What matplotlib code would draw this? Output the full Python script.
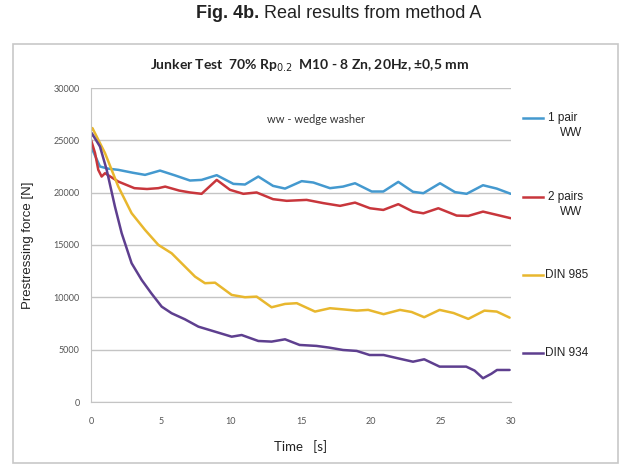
import matplotlib.pyplot as plt
from matplotlib.patches import Rectangle

# values (time in s, force in N)
t_pair1 = [0, 0.64, 1.2, 1.95, 3.0, 3.86, 4.93, 6.0, 7.07, 7.9, 8.98, 10.17, 11.0, 11.95, 13.0,
           13.86, 15.05, 15.88, 17.07, 18.0, 18.86, 20.05, 20.88, 21.95, 23.0, 23.74, 24.93, 26.0,
           26.83, 28.0, 28.98, 29.98]
f_pair1 = [24400, 22500, 22300, 22180, 21900, 21700, 22110, 21650, 21160, 21220, 21670, 20840,
           20780, 21540, 20650, 20390, 21100, 20970, 20430, 20580, 20900, 20110, 20110, 21030,
           20080, 19950, 20900, 20050, 19890, 20710, 20390, 19890]

t_pairs2 = [0, 0.29, 0.52, 0.76, 1.0, 1.95, 3.1, 4.0, 4.81, 5.3, 6.3, 7.07, 7.9, 8.98, 9.93, 10.88,
            11.83, 13.0, 13.98, 15.4, 16.6, 17.79, 18.86, 19.93, 20.88, 21.95, 23.0, 23.74, 24.81,
            26.12, 26.95, 28.0, 28.98, 29.98]
f_pairs2 = [25050, 23780, 22180, 21540, 21860, 21060, 20430, 20350, 20430, 20580, 20200, 20020,
            19890, 21220, 20270, 19890, 20020, 19380, 19220, 19310, 19000, 18740, 19050, 18510,
            18350, 18900, 18190, 18030, 18510, 17810, 17780, 18190, 17880, 17560]

t_din985 = [0, 0.1, 1.0, 1.95, 2.9, 3.86, 4.81, 5.76, 6.71, 7.43, 8.14, 8.86, 10.05, 11.0, 11.83,
            12.9, 13.86, 14.7, 16.0, 17.07, 18.0, 18.98, 19.8, 20.9, 22.07, 22.9, 23.8, 24.9,
            25.9, 26.95, 28.1, 28.98, 29.9]
f_din985 = [26000, 26170, 23780, 20580, 18040, 16440, 15010, 14210, 12940, 11980, 11350, 11400,
            10230, 10010, 10070, 9050, 9370, 9440, 8640, 8960, 8850, 8730, 8800, 8390, 8800, 8600,
            8100, 8800, 8500, 7940, 8730, 8640, 8060]

t_din934 = [0, 0.05, 0.64, 1.12, 1.71, 2.19, 2.9, 3.62, 4.3, 5.05, 5.76, 6.71, 7.67, 8.86, 10.05,
            10.76, 11.95, 12.9, 13.86, 14.9, 16.1, 17.0, 18.0, 18.98, 19.9, 20.9, 22.0, 23.0, 23.8,
            24.9, 26.8, 27.4, 28.0, 28.6, 29.0, 29.9]
f_din934 = [25400, 25690, 24410, 22180, 18670, 16130, 13260, 11660, 10400, 9110, 8480, 7900,
            7200, 6720, 6240, 6400, 5830, 5770, 5990, 5450, 5360, 5200, 4970, 4880, 4490, 4490,
            4150, 3850, 4080, 3380, 3380, 3000, 2270, 2700, 3060, 3060]

series_labels = [('1 pair', 'WW'), ('2 pairs', 'WW'), ('DIN 985', None), ('DIN 934', None)]
series_colors = ['#4499CF', '#C8363C', '#E8B72E', '#5E3F8F']

x_ticks = [0, 5, 10, 15, 20, 25, 30]
y_ticks = [0, 5000, 10000, 15000, 20000, 25000, 30000]

fig = plt.figure(figsize=(6.21, 4.66), dpi=100)
fig.patches.append(Rectangle((13 / 621, 1 - 463 / 466), 605 / 621, 419 / 466,
                             transform=fig.transFigure, fill=False, ec='#c8c8c8', lw=1.2))

ax = fig.add_axes([91 / 621, 1 - 402 / 466, 420 / 621, 314 / 466])

for t, f, c in zip([t_pair1, t_pairs2, t_din985, t_din934],
                   [f_pair1, f_pairs2, f_din985, f_din934], series_colors):
    ax.plot(t, f, color=c, lw=1.8, solid_joinstyle='round', solid_capstyle='round')

ax.set_xlim(0, 30)
ax.set_ylim(0, 30000)
ax.set_xticks(x_ticks)
ax.set_yticks(y_ticks)
ax.grid(axis='y', color='#c4c4c4', lw=1)
ax.set_axisbelow(True)
for s in ['top', 'right']:
    ax.spines[s].set_visible(False)
for s in ['left', 'bottom']:
    ax.spines[s].set_color('#c4c4c4')
ax.tick_params(length=0, labelsize=6.5, labelcolor='#555555', pad=8, labelfontfamily='Lato')
ax.tick_params(axis='x', pad=11)

ax.set_xlabel('Time   [s]', fontsize=9.5, family='Lato', color='#222222', labelpad=10)
ax.set_ylabel('Prestressing force [N]', fontsize=9.5, family='Liberation Sans', color='#222222',
              labelpad=14)

ax.text(0.535, 0.9, 'ww - wedge washer', transform=ax.transAxes, ha='center', va='center',
        fontsize=8, family='Lato', color='#333333')

# legend drawn as labels at the right of the plot
leg_y = [118, 197, 275, 353]
for (first, second), c, yp in zip(series_labels, series_colors, leg_y):
    yf = 1 - yp / 466
    fig.add_artist(plt.Line2D([523 / 621, 543 / 621], [yf, yf], color=c, lw=1.8))
    if second:
        fig.text(548 / 621, yf, first, ha='left', va='center', fontsize=8.5,
                 family='Liberation Sans', color='#222222')
        fig.text(582 / 621, yf - 15 / 466, second, ha='right', va='center', fontsize=8.5,
                 family='Liberation Sans', color='#222222')
    else:
        fig.text(545 / 621, yf, first, ha='left', va='center', fontsize=8.5,
                 family='Liberation Sans', color='#222222')

fig.text(310 / 621, 1 - 66 / 466, r'Junker Test  70% Rp$_{0.2}$  M10 - 8 Zn, 20Hz, ±0,5 mm',
         ha='center', va='center', fontsize=10, family='Lato', weight='bold', color='#222222')

fig.text(259 / 621, 1 - 14 / 466, 'Fig. 4b.', ha='right', va='center', fontsize=13,
         family='Liberation Sans', weight='bold', color='#222222')
fig.text(264 / 621, 1 - 14 / 466, 'Real results from method A', ha='left', va='center',
         fontsize=13, family='Liberation Sans', color='#222222')

fig.savefig('out.png', dpi=100)
